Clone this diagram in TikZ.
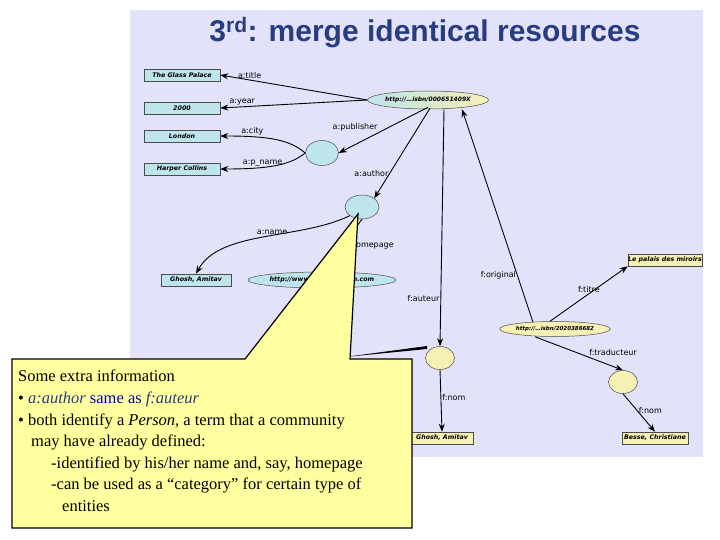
\documentclass[tikz,border=0pt]{standalone}
\usepackage{fontspec}
\setmainfont{Liberation Serif}
\newfontfamily\gs{DejaVu Sans}
\newfontfamily\hs{Liberation Sans}
\usetikzlibrary{shapes.geometric,arrows.meta,calc}
\definecolor{bgp}{RGB}{226,226,250}
\definecolor{lcyan}{RGB}{190,228,236}
\definecolor{lyel}{RGB}{246,240,180}
\definecolor{ttl}{RGB}{40,60,130}
\definecolor{cally}{RGB}{255,255,160}
\begin{document}
\begin{tikzpicture}[x=1pt,y=-1pt,
  lit/.style={draw=black!70,line width=0.5pt,minimum height=12pt,inner sep=0pt,font=\gs\bfseries\itshape\fontsize{6.3}{7}\selectfont},
  cy/.style={lit,fill=lcyan},
  yl/.style={lit,fill=lyel},
  bl/.style={ellipse,draw=black!70,line width=0.5pt,fill=lcyan,inner sep=0pt},
  yb/.style={ellipse,draw=black!70,line width=0.5pt,fill=lyel,inner sep=0pt},
  ed/.style={-{Stealth[length=8pt,width=6pt]},line width=0.9pt},
  lb/.style={font=\gs\fontsize{8}{9}\selectfont,fill=none,inner sep=1pt}]
\useasboundingbox (0,0) rectangle (720,540);
\fill[white] (0,0) rectangle (720,540);
\fill[bgp] (130,10) rectangle (703,457);
\node[font=\hs\bfseries\fontsize{30}{32}\selectfont,text=ttl] (title) at (425,33) {3\textsuperscript{rd}: merge identical resources};
% nodes
\node[cy,minimum width=76pt] (glass) at (182,75) {The Glass Palace};
\node[cy,minimum width=76pt] (year) at (182,108) {2000};
\node[cy,minimum width=76pt] (london) at (182,136) {London};
\node[cy,minimum width=76pt] (harper) at (182,169) {Harper Collins};
\node[bl,left color=lcyan,right color=lyel,minimum width=115pt,minimum height=18pt,font=\gs\bfseries\itshape\fontsize{6}{7}\selectfont] (isbn1) at (428,100) {http://…isbn/000651409X};
\node[bl,minimum width=33pt,minimum height=25pt] (pub) at (322,153) {};
\node[bl,minimum width=34pt,minimum height=24pt] (auth) at (362,207) {};
\node[cy,minimum width=70pt] (ghosh1) at (196,280) {Ghosh, Amitav};
\node[bl,minimum width=122pt,minimum height=16pt,font=\gs\bfseries\itshape\fontsize{6.3}{7}\selectfont] (home) at (322,280) {http://www.amitavghosh.com};
\node[yb,minimum width=106pt,minimum height=15pt,font=\gs\bfseries\itshape\fontsize{5.5}{6}\selectfont] (isbn2) at (555,329) {http://…isbn/2020386682};
\node[yl,minimum width=74pt] (palais) at (665,260) {Le palais des miroirs};
\node[yb,minimum width=29pt,minimum height=23pt] (fa) at (440,358) {};
\node[yb,minimum width=29pt,minimum height=23pt] (ft) at (623,382) {};
\node[yl,minimum width=62pt] (ghosh2) at (442,438) {Ghosh, Amitav};
\node[yl,minimum width=66pt] (besse) at (655,438) {Besse, Christiane};
% edges
\draw[ed] (isbn1.west) -- (glass.east) node[lb,pos=0.8,above] {a:title};
\draw[ed] (isbn1.west) -- (year.east) node[lb,pos=0.85,above] {a:year};
\draw[ed] (pub.west) .. controls (290,140) and (270,136) .. (london.east) node[lb,pos=0.75,above] {a:city};
\draw[ed] (pub.west) .. controls (290,165) and (270,169) .. (harper.east) node[lb,pos=0.65,above] {a:p\_name};
\draw[ed] ($(isbn1.south)+(0,-2)$) -- (pub.east) node[lb,pos=0.55,above left] {a:publisher};
\draw[ed] ($(isbn1.south)+(2,-1)$) -- (auth.north east) node[lb,pos=0.72,left] {a:author};
\draw[ed] (auth.south west) .. controls (300,240) and (220,230) .. (ghosh1.north) node[lb,pos=0.45,above] {a:name};
\draw[ed] (auth.south) -- (home.north) node[lb,pos=0.5,right] {a:homepage};
\draw[ed] ($(isbn1.south)+(16,0)$) -- (fa.north) node[lb,pos=0.8,left] {f:auteur};
\draw[ed] ($(isbn2.north)+(-22,1)$) -- ($(isbn1.south)+(34,0)$) node[lb,pos=0.22,left] {f:original};
\draw[ed] ($(isbn2.north)+(-5,0)$) -- (palais.south west) node[lb,pos=0.5,above] {f:titre};
\draw[ed] ($(isbn2.south)+(-20,0)$) -- (ft.north) node[lb,pos=0.6,above right] {f:traducteur};
\draw[ed] (fa.south) -- (ghosh2.north) node[lb,pos=0.45,right] {f:nom};
\draw[ed] (ft.south) -- (besse.north) node[lb,pos=0.45,right] {f:nom};
% wedge mark
\fill[black] (345,357) -- (427,346) -- (427,349) -- cycle;
% callout
\draw[fill=cally,line width=1.2pt] (12,359) -- (245,359) -- (358,214) -- (350,359) -- (412,359) -- (412,528) -- (12,528) -- cycle;
\node[anchor=north west,align=left,inner sep=0pt,font=\fontsize{16.5}{21.6}\selectfont] (call) at (18,370) {Some extra information\\
• {\color{ttl}\itshape a:author} {\color{blue!70!black}same as} {\color{ttl}\itshape f:auteur}\\
• both identify a \textit{Person}, a term that a community\\
\hspace*{13pt}may have already defined:\\
\hspace*{33pt}-identified by his/her name and, say, homepage\\
\hspace*{33pt}-can be used as a “category” for certain type of\\
\hspace*{44pt}entities};
\end{tikzpicture}
\end{document}
